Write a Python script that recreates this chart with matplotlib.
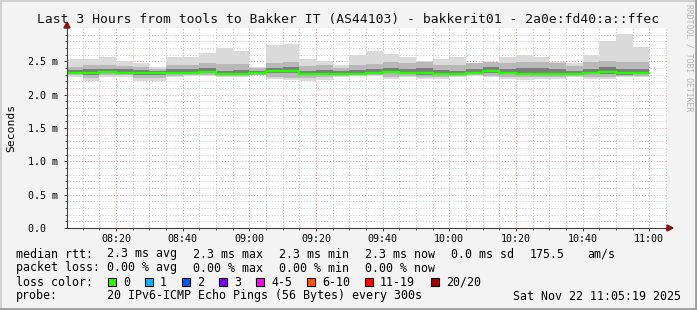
#smokeping style latency graph, redrawn with matplotlib
import numpy as np
import matplotlib
matplotlib.use("Agg")
from matplotlib import pyplot as plt
from matplotlib.patches import Rectangle, Polygon
from matplotlib.lines import Line2D

#data, one value per 5 minute step starting 08:05 (values in ms)
step_start = 8 * 60 + 5
step_len = 5
rtt_max = [2.54, 2.54, 2.56, 2.51, 2.47, 2.42, 2.56, 2.56, 2.62, 2.70, 2.65, 2.42, 2.74, 2.76, 2.54, 2.51, 2.44, 2.60,
           2.66, 2.61, 2.57, 2.51, 2.54, 2.56, 2.46, 2.49, 2.56, 2.59, 2.57, 2.49, 2.47, 2.59, 2.81, 2.91, 2.72]
rtt_min = [2.27, 2.21, 2.27, 2.27, 2.21, 2.21, 2.26, 2.28, 2.28, 2.26, 2.26, 2.29, 2.24, 2.22, 2.21, 2.22, 2.27, 2.28,
           2.28, 2.24, 2.27, 2.23, 2.24, 2.26, 2.28, 2.27, 2.24, 2.22, 2.23, 2.24, 2.26, 2.24, 2.23, 2.26, 2.27]
mid_hi = [2.42, 2.44, 2.45, 2.43, 2.41, 2.38, 2.44, 2.45, 2.47, 2.46, 2.46, 2.40, 2.48, 2.49, 2.43, 2.44, 2.40, 2.44,
          2.46, 2.49, 2.47, 2.49, 2.44, 2.44, 2.47, 2.49, 2.47, 2.49, 2.49, 2.47, 2.43, 2.49, 2.51, 2.49, 2.49]
mid_lo = [2.29, 2.25, 2.29, 2.29, 2.25, 2.25, 2.28, 2.29, 2.29, 2.28, 2.28, 2.30, 2.27, 2.25, 2.25, 2.26, 2.28, 2.29,
          2.29, 2.27, 2.28, 2.26, 2.27, 2.28, 2.29, 2.28, 2.27, 2.26, 2.26, 2.27, 2.28, 2.27, 2.26, 2.28, 2.28]
in_hi = [2.37, 2.38, 2.39, 2.38, 2.37, 2.35, 2.38, 2.38, 2.40, 2.36, 2.37, 2.36, 2.40, 2.41, 2.36, 2.37, 2.35, 2.37,
         2.38, 2.40, 2.39, 2.40, 2.37, 2.36, 2.39, 2.41, 2.39, 2.40, 2.40, 2.38, 2.36, 2.39, 2.41, 2.39, 2.39]
in_lo = [2.31, 2.30, 2.32, 2.31, 2.30, 2.30, 2.31, 2.31, 2.32, 2.29, 2.29, 2.31, 2.32, 2.32, 2.29, 2.29, 2.29, 2.29,
         2.31, 2.32, 2.31, 2.30, 2.29, 2.29, 2.31, 2.33, 2.31, 2.29, 2.29, 2.29, 2.29, 2.31, 2.31, 2.30, 2.31]
median = [2.33, 2.33, 2.34, 2.33, 2.33, 2.32, 2.33, 2.33, 2.34, 2.31, 2.31, 2.33, 2.35, 2.35, 2.31, 2.31, 2.31, 2.31,
          2.33, 2.34, 2.33, 2.33, 2.31, 2.31, 2.33, 2.35, 2.33, 2.31, 2.31, 2.31, 2.31, 2.33, 2.34, 2.32, 2.33]

x_labels = ["08:20", "08:40", "09:00", "09:20", "09:40", "10:00", "10:20", "10:40", "11:00"]
y_labels = ["0.0  ", "0.5 m", "1.0 m", "1.5 m", "2.0 m", "2.5 m"]
loss_names = ["0", "1", "2", "3", "4-5", "6-10", "11-19", "20/20"]
loss_colors = ["#26ff00", "#00b8ff", "#0059ff", "#7e00ff", "#ff00ff", "#ff5500", "#ff0000", "#a00000"]

W, H = 697, 310
mono = "DejaVu Sans Mono"

def fx(x):
    return x / W

def fy(y):
    return 1 - y / H

fig = plt.figure(figsize=(W / 100, H / 100), dpi=100, facecolor="#f3f3f3")
ax = fig.add_axes([fx(67), fy(228), 600 / W, 200 / H])
ax.set_facecolor("white")

t0 = 8 * 60 + 5 + 19 / 60
ax.set_xlim(t0, t0 + 180)
ax.set_ylim(0, 3.0)

#grid first, the smoke covers it
for m in range(490, 670, 5):
    if m % 20 == 0:
        continue
    ax.axvline(m, color="#c8c8c8", lw=0.7, ls=(0, (1, 2)), zorder=0)
for v in np.arange(0.1, 3.0, 0.1):
    if abs(v * 2 - round(v * 2)) < 1e-6:
        continue
    ax.axhline(v, color="#c8c8c8", lw=0.7, ls=(0, (1, 2)), zorder=0)
for m in range(500, 670, 20):
    ax.axvline(m, color="#f09898", lw=0.7, ls=(0, (1, 2)), zorder=0.5)
for v in [0.5, 1.0, 1.5, 2.0, 2.5]:
    ax.axhline(v, color="#f09898", lw=0.7, ls=(0, (1, 2)), zorder=0.5)

edges = step_start + step_len * np.arange(len(median) + 1)
ax.stairs(rtt_max, edges, baseline=rtt_min, fill=True, color="#dadada", lw=0, zorder=1)
ax.stairs(mid_hi, edges, baseline=mid_lo, fill=True, color="#b8b8b8", lw=0, zorder=1.1)
ax.stairs(in_hi, edges, baseline=in_lo, fill=True, color="#7c7c7c", lw=0, zorder=1.2)
ax.stairs(median, edges, baseline=None, color="#26ff00", lw=1.7, zorder=2)

#axes
for s in ["top", "right"]:
    ax.spines[s].set_visible(False)
for s in ["left", "bottom"]:
    ax.spines[s].set_color("#404040")
    ax.spines[s].set_linewidth(0.8)

x_pos = [500 + 20 * i for i in range(len(x_labels))]
ax.set_xticks(x_pos)
ax.set_xticklabels(x_labels, fontfamily=mono, fontsize=7.2)
ax.set_xticks(list(range(490, 670, 5)), minor=True)
ax.set_yticks([0.5 * i for i in range(len(y_labels))])
ax.set_yticklabels(y_labels, fontfamily=mono, fontsize=7.2)
ax.set_yticks(np.arange(0.1, 3.0, 0.1), minor=True)
ax.tick_params(axis="both", which="major", length=2.5, width=0.7, color="#404040")
ax.tick_params(axis="both", which="minor", length=1.5, width=0.6, color="#404040")
ax.tick_params(axis="x", which="major", pad=1.5)
ax.tick_params(axis="y", which="major", pad=4)

#arrows on the axes
fig.patches.append(Polygon([(fx(64), fy(28)), (fx(70), fy(28)), (fx(67), fy(22))], closed=True,
                           transform=fig.transFigure, color="#8b1010", zorder=5))
fig.patches.append(Polygon([(fx(667), fy(225)), (fx(667), fy(231)), (fx(673), fy(228))], closed=True,
                           transform=fig.transFigure, color="#8b1010", zorder=5))

fig.text(fx(348), fy(19), "Last 3 Hours from tools to Bakker IT (AS44103) - bakkerit01 - 2a0e:fd40:a::ffec",
         ha="center", va="center", fontfamily=mono, fontsize=9.4, color="#111111")
fig.text(fx(11), fy(128), "Seconds", rotation=90, ha="center", va="center", fontfamily=mono, fontsize=8.2)
fig.text(fx(689), fy(4), "RRDTOOL / TOBI OETIKER", rotation=270, ha="center", va="top", fontfamily=mono,
         fontsize=5.8, color="#b4b4b4")

#legend rows
fs = 8.4
row1 = [(16, "median rtt:"), (107, "2.3 ms avg"), (193, "2.3 ms max"), (279, "2.3 ms min"), (365, "2.3 ms now"),
        (451, "0.0 ms sd"), (530, "175.5"), (587, "am/s")]
row2 = [(16, "packet loss:"), (107, "0.00 % avg"), (193, "0.00 % max"), (279, "0.00 % min"), (365, "0.00 % now")]
for x, s in row1:
    fig.text(fx(x), fy(254), s, ha="left", va="center", fontfamily=mono, fontsize=fs)
for x, s in row2:
    fig.text(fx(x), fy(268), s, ha="left", va="center", fontfamily=mono, fontsize=fs)
fig.text(fx(16), fy(282), "loss color:", ha="left", va="center", fontfamily=mono, fontsize=fs)
box_x = [108, 145, 182, 219, 256, 307, 365, 431]
for bx, name, c in zip(box_x, loss_names, loss_colors):
    fig.patches.append(Rectangle((fx(bx), fy(286)), 8 / W, 8 / H, transform=fig.transFigure,
                                 facecolor=c, edgecolor="black", lw=0.8))
    fig.text(fx(bx + 15), fy(282), name, ha="left", va="center", fontfamily=mono, fontsize=fs)
fig.text(fx(16), fy(296), "probe:", ha="left", va="center", fontfamily=mono, fontsize=fs)
fig.text(fx(107), fy(296), "20 IPv6-ICMP Echo Pings (56 Bytes) every 300s", ha="left", va="center",
         fontfamily=mono, fontsize=fs)
fig.text(fx(681), fy(296), "Sat Nov 22 11:05:19 2025", ha="right", va="center", fontfamily=mono, fontsize=fs)

#frame around the canvas
fig.lines.append(Line2D([0, 1], [fy(1), fy(1)], transform=fig.transFigure, color="#d0d0d0", lw=1.5))
fig.lines.append(Line2D([fx(1), fx(1)], [0, 1], transform=fig.transFigure, color="#d0d0d0", lw=1.5))
fig.lines.append(Line2D([0, 1], [fy(308.5), fy(308.5)], transform=fig.transFigure, color="#9c9c9c", lw=2))
fig.lines.append(Line2D([fx(695.5), fx(695.5)], [0, 1], transform=fig.transFigure, color="#9c9c9c", lw=2))

fig.savefig("out.png", dpi=100, facecolor=fig.get_facecolor())
